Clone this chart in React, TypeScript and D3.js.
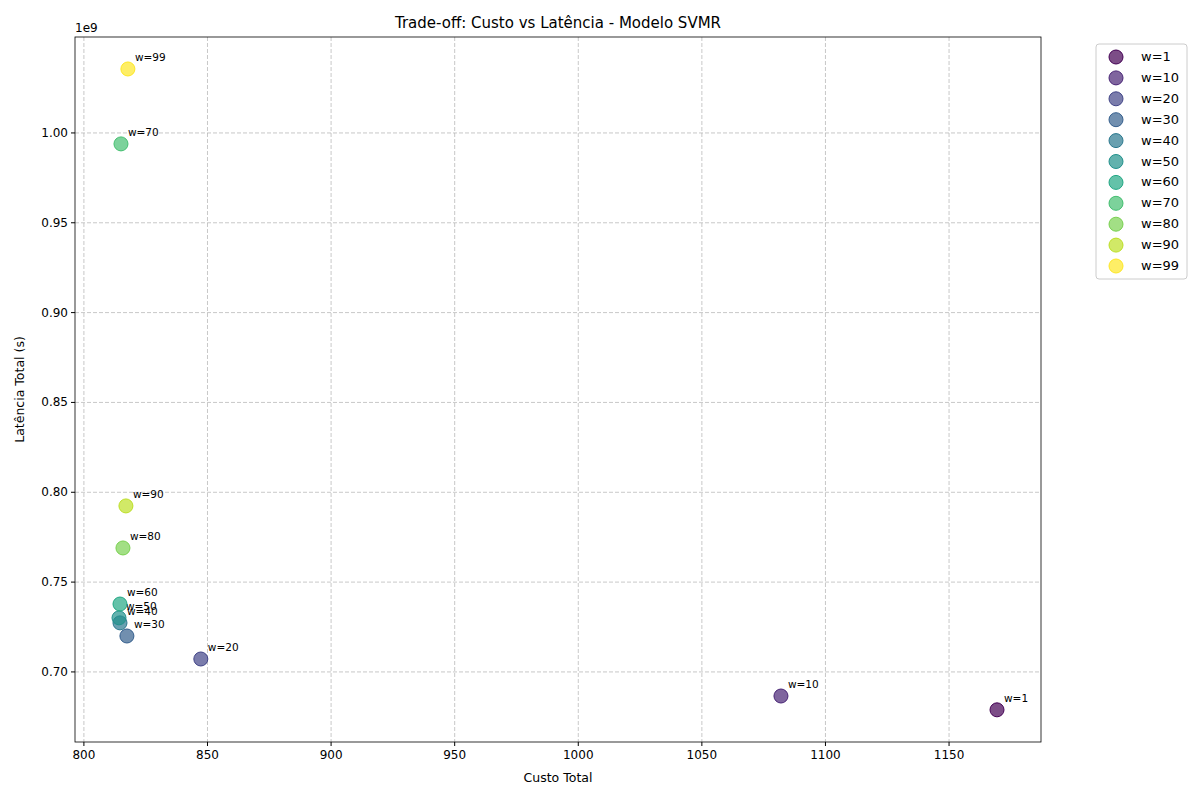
import React from "react";
import * as d3 from "d3";

const labels = ["w=1","w=10","w=20","w=30","w=40","w=50","w=60","w=70","w=80","w=90","w=99"];
const custo = [1169.4,1082.0,847.3,817.4,814.6,814.2,814.6,815.0,815.8,817.0,817.8];
const latencia = [0.6789,0.6866,0.7072,0.7200,0.7273,0.7301,0.7378,0.9939,0.7690,0.7924,1.0356];
const xTicks = [800,850,900,950,1000,1050,1100,1150];
const yTicks = [0.70,0.75,0.80,0.85,0.90,0.95,1.00];

export default function App() {
  const L = 75, T = 37, R = 1041, B = 742;
  const x = d3.scaleLinear().domain([796.4, 1187.2]).range([L, R]);
  const y = d3.scaleLinear().domain([0.661, 1.0534]).range([B, T]);
  const col = (i: number) => d3.interpolateViridis(i / (labels.length - 1));
  const font = "DejaVu Sans, sans-serif";
  return (
    <svg width={1200} height={800} style={{ position: "absolute", left: 0, top: 0 }} fontFamily={font}>
      <rect width={1200} height={800} fill="#fff" />
      {xTicks.map(t => <line key={"gx"+t} x1={x(t)} x2={x(t)} y1={T} y2={B} stroke="#b0b0b0" strokeDasharray="4,2" strokeOpacity={0.7} />)}
      {yTicks.map(t => <line key={"gy"+t} x1={L} x2={R} y1={y(t)} y2={y(t)} stroke="#b0b0b0" strokeDasharray="4,2" strokeOpacity={0.7} />)}
      {custo.map((c, i) => (
        <g key={labels[i]}>
          <circle cx={x(c)} cy={y(latencia[i])} r={7} fill={col(i)} fillOpacity={0.7} stroke={col(i)} />
          <text x={x(c) + 7} y={y(latencia[i]) - 8} fontSize={10.5}>{labels[i]}</text>
        </g>
      ))}
      <rect x={L} y={T} width={R - L} height={B - T} fill="none" stroke="#000" strokeWidth={0.8} />
      {xTicks.map(t => (
        <g key={"tx"+t}>
          <line x1={x(t)} x2={x(t)} y1={B} y2={B + 4} stroke="#000" />
          <text x={x(t)} y={B + 17} fontSize={12} textAnchor="middle">{t}</text>
        </g>
      ))}
      {yTicks.map(t => (
        <g key={"ty"+t}>
          <line x1={L - 4} x2={L} y1={y(t)} y2={y(t)} stroke="#000" />
          <text x={L - 7} y={y(t) + 4} fontSize={12} textAnchor="end">{t.toFixed(2)}</text>
        </g>
      ))}
      <text x={L} y={T - 5} fontSize={12}>1e9</text>
      <text x={(L + R) / 2} y={28} fontSize={15} textAnchor="middle">Trade-off: Custo vs Latência - Modelo SVMR</text>
      <text x={(L + R) / 2} y={782} fontSize={12.5} textAnchor="middle">Custo Total</text>
      <text transform={`translate(24,${(T + B) / 2}) rotate(-90)`} fontSize={12.5} textAnchor="middle">Latência Total (s)</text>
      <rect x={1096} y={44} width={91} height={235} rx={3} fill="#fff" stroke="#ccc" />
      {labels.map((l, i) => (
        <g key={"lg"+l}>
          <circle cx={1116} cy={57 + i * 20.9} r={7} fill={col(i)} fillOpacity={0.7} stroke={col(i)} />
          <text x={1141} y={61 + i * 20.9} fontSize={13}>{l}</text>
        </g>
      ))}
    </svg>
  );
}
